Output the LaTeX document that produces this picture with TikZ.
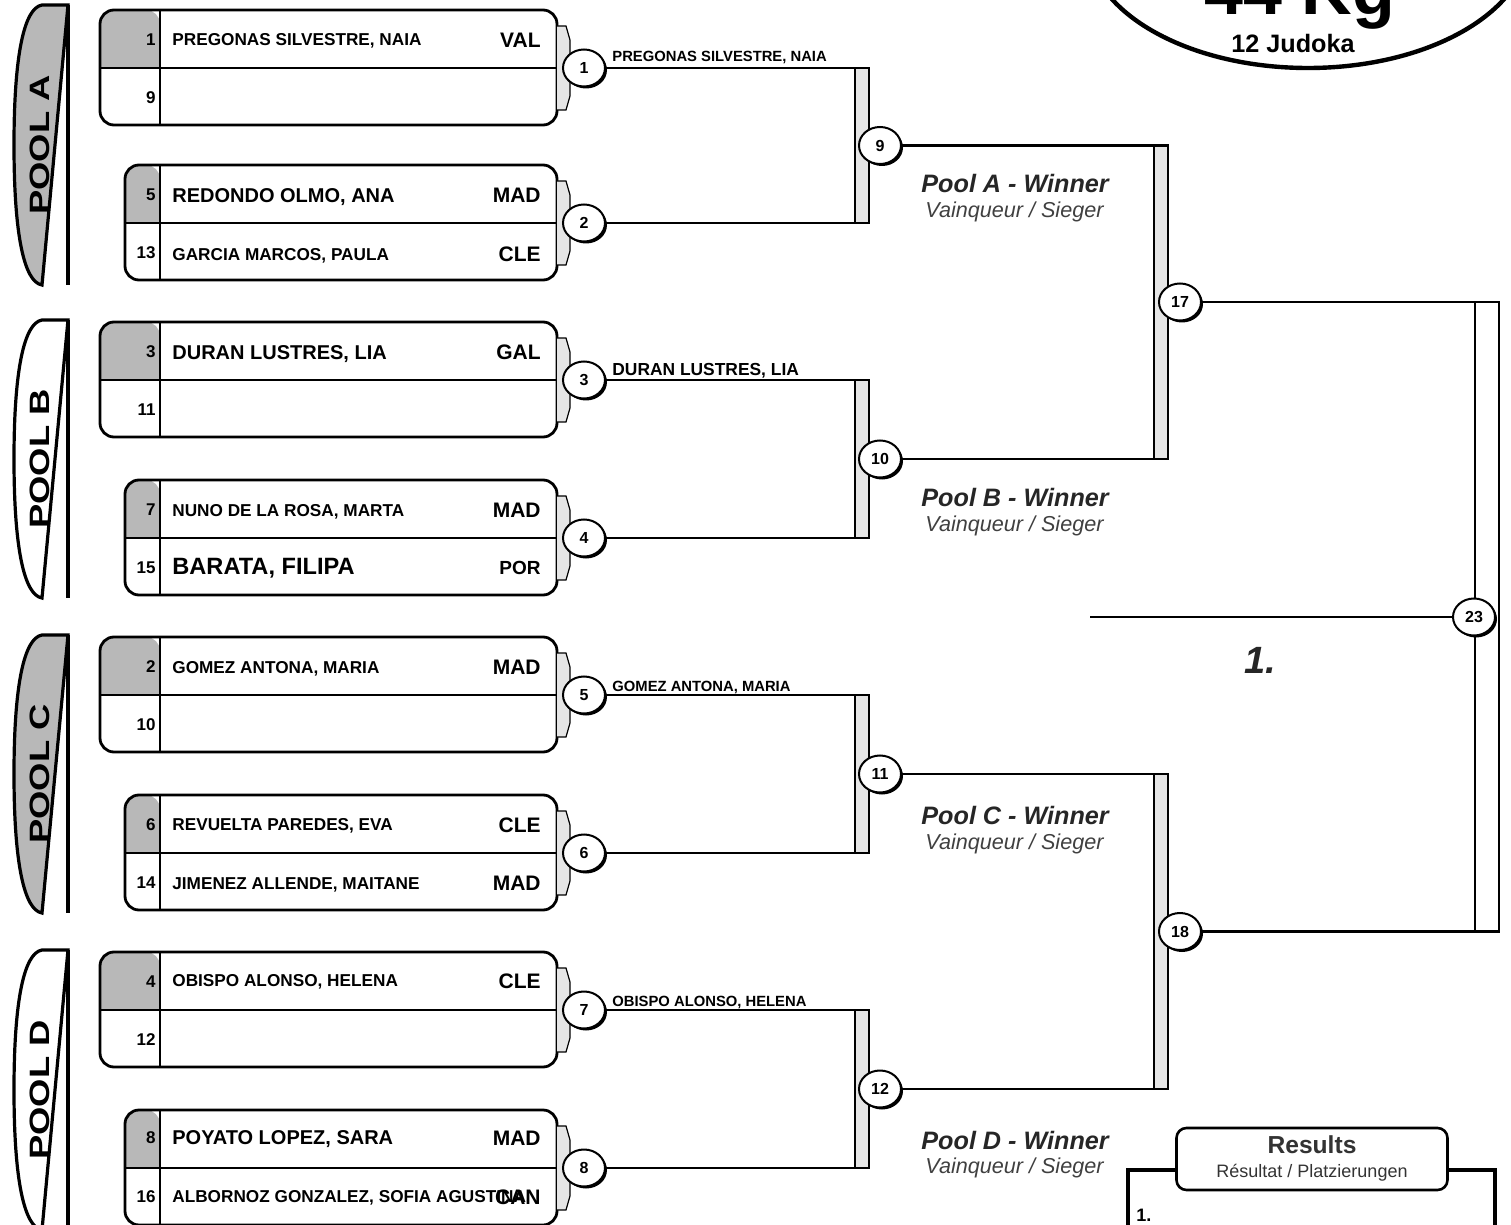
\documentclass[tikz,border=0pt]{standalone}
\usepackage{graphicx}
\usepackage{fontspec}
\setmainfont{Liberation Sans}
\usetikzlibrary{shapes.geometric,shadows}
\definecolor{poolgrey}{gray}{0.72}

\tikzset{
  pooltag/.style={line width=1.6pt},
  poolrim/.style={line width=2.4pt},
  pooltext/.style={rotate=90, inner sep=0pt, font=\bfseries\fontsize{14}{16}\selectfont},
  entry/.style={line width=1.4pt, rounded corners=7pt},
  seedcell/.style={fill=poolgrey},
  rowline/.style={line width=1pt},
  colline/.style={line width=0.7pt},
  tab/.style={draw, fill=black!10, line width=0.6pt},
  match/.style={ellipse, draw, line width=1pt, fill=white, minimum width=21pt, minimum height=18.5pt,
    inner sep=0pt, font=\bfseries\fontsize{8}{9}\selectfont,
    drop shadow={shadow xshift=1pt, shadow yshift=-1pt, fill=black, opacity=1}},
  wire/.style={line width=1.3pt},
  brfill/.style={fill=black!10},
  seedno/.style={anchor=east, inner sep=0pt, font=\bfseries\fontsize{8.5}{10}\selectfont},
  judoka/.style={anchor=west, inner sep=0pt, font=\bfseries\fontsize{#1}{12}\selectfont},
  judoka/.default=8.6,
  club/.style={anchor=east, inner sep=0pt, font=\bfseries\fontsize{10.5}{12}\selectfont},
  advance/.style={anchor=base west, inner sep=0pt, font=\bfseries\fontsize{#1}{9}\selectfont},
  advance/.default=7.4,
  winner/.style={anchor=west, inner sep=0pt, text=black!85, font=\bfseries\itshape\fontsize{12.6}{14}\selectfont},
  winnersub/.style={anchor=west, inner sep=0pt, text=black!75, font=\itshape\fontsize{10.8}{12}\selectfont},
}

\begin{document}
\begin{tikzpicture}[x=0.5pt, y=-0.5pt]
  \useasboundingbox (0,0) rectangle (1511,1225);
  \clip (0,0) rectangle (1511,1225);

  % pool tags
  \filldraw[pooltag, fill=poolgrey] (68,5) -- (42,5) .. controls (24,8) and (14,55) .. (14,145) .. controls (14,235) and (24,282) .. (42,285) -- cycle;
  \draw[poolrim] (68,5) -- (68,285);
  \node[pooltext] (pa) at (40,145) {\scalebox{1.3}[1]{POOL A}};

  \filldraw[pooltag, fill=white] (68,320) -- (42,320) .. controls (24,323) and (14,370) .. (14,459) .. controls (14,548) and (24,595) .. (42,598) -- cycle;
  \draw[poolrim] (68,320) -- (68,598);
  \node[pooltext] (pb) at (40,459) {\scalebox{1.3}[1]{POOL B}};

  \filldraw[pooltag, fill=poolgrey] (68,635) -- (42,635) .. controls (24,638) and (14,685) .. (14,774) .. controls (14,863) and (24,910) .. (42,913) -- cycle;
  \draw[poolrim] (68,635) -- (68,913);
  \node[pooltext] (pc) at (40,774) {\scalebox{1.3}[1]{POOL C}};

  \filldraw[pooltag, fill=white] (68,950) -- (42,950) .. controls (24,953) and (14,1000) .. (14,1090) .. controls (14,1180) and (24,1227) .. (42,1230) -- cycle;
  \draw[poolrim] (68,950) -- (68,1230);
  \node[pooltext] (pd) at (40,1090) {\scalebox{1.3}[1]{POOL D}};

  % box 1
  \fill[seedcell] (160,68) -- (100,68) [rounded corners=7pt] |- (160,10) [sharp corners] -- cycle;
  \draw[entry] (100,10) rectangle (557,125);
  \draw[rowline] (100,68) -- (557,68);
  \draw[colline] (160,10) -- (160,125);
  \filldraw[tab] (557,26) -- (566,26) -- (570,40) -- (570,96) -- (566,110) -- (557,110);
  \node[seedno] (s1) at (156,40) {1};
  \node[judoka] (j1) at (172,41) {PREGONAS SILVESTRE, NAIA};
  \node[club] (c1) at (541,40) {VAL};
  \node[seedno] (s9) at (156,98) {9};

  % box 2
  \fill[seedcell] (160,223) -- (125,223) [rounded corners=7pt] |- (160,165) [sharp corners] -- cycle;
  \draw[entry] (125,165) rectangle (557,280);
  \draw[rowline] (125,223) -- (557,223);
  \draw[colline] (160,165) -- (160,280);
  \filldraw[tab] (557,181) -- (566,181) -- (570,195) -- (570,251) -- (566,265) -- (557,265);
  \node[seedno] (s5) at (156,195) {5};
  \node[judoka=10] (j5) at (172,197) {REDONDO OLMO, ANA};
  \node[club] (c5) at (541,195) {MAD};
  \node[seedno] (s13) at (156,253) {13};
  \node[judoka] (j13) at (172,256) {GARCIA MARCOS, PAULA};
  \node[club] (c13) at (541,254) {CLE};

  % box 3
  \fill[seedcell] (160,380) -- (100,380) [rounded corners=7pt] |- (160,322) [sharp corners] -- cycle;
  \draw[entry] (100,322) rectangle (557,437);
  \draw[rowline] (100,380) -- (557,380);
  \draw[colline] (160,322) -- (160,437);
  \filldraw[tab] (557,338) -- (566,338) -- (570,352) -- (570,408) -- (566,422) -- (557,422);
  \node[seedno] (s3) at (156,352) {3};
  \node[judoka=10] (j3) at (172,354) {DURAN LUSTRES, LIA};
  \node[club] (c3) at (541,352) {GAL};
  \node[seedno] (s11) at (156,410) {11};

  % box 4
  \fill[seedcell] (160,538) -- (125,538) [rounded corners=7pt] |- (160,480) [sharp corners] -- cycle;
  \draw[entry] (125,480) rectangle (557,595);
  \draw[rowline] (125,538) -- (557,538);
  \draw[colline] (160,480) -- (160,595);
  \filldraw[tab] (557,496) -- (566,496) -- (570,510) -- (570,566) -- (566,580) -- (557,580);
  \node[seedno] (s7) at (156,510) {7};
  \node[judoka] (j7) at (172,512) {NUNO DE LA ROSA, MARTA};
  \node[club] (c7) at (541,510) {MAD};
  \node[seedno] (s15) at (156,568) {15};
  \node[judoka=11.8] (j15) at (172,568) {BARATA, FILIPA};
  \node[club, font=\bfseries\fontsize{9.5}{11}\selectfont] (c15) at (541,568) {POR};

  % box 5
  \fill[seedcell] (160,695) -- (100,695) [rounded corners=7pt] |- (160,637) [sharp corners] -- cycle;
  \draw[entry] (100,637) rectangle (557,752);
  \draw[rowline] (100,695) -- (557,695);
  \draw[colline] (160,637) -- (160,752);
  \filldraw[tab] (557,653) -- (566,653) -- (570,667) -- (570,723) -- (566,737) -- (557,737);
  \node[seedno] (s2) at (156,667) {2};
  \node[judoka] (j2) at (172,669) {GOMEZ ANTONA, MARIA};
  \node[club] (c2) at (541,667) {MAD};
  \node[seedno] (s10) at (156,725) {10};

  % box 6
  \fill[seedcell] (160,853) -- (125,853) [rounded corners=7pt] |- (160,795) [sharp corners] -- cycle;
  \draw[entry] (125,795) rectangle (557,910);
  \draw[rowline] (125,853) -- (557,853);
  \draw[colline] (160,795) -- (160,910);
  \filldraw[tab] (557,811) -- (566,811) -- (570,825) -- (570,881) -- (566,895) -- (557,895);
  \node[seedno] (s6) at (156,825) {6};
  \node[judoka] (j6) at (172,826) {REVUELTA PAREDES, EVA};
  \node[club] (c6) at (541,825) {CLE};
  \node[seedno] (s14) at (156,883) {14};
  \node[judoka] (j14) at (172,885) {JIMENEZ ALLENDE, MAITANE};
  \node[club] (c14) at (541,883) {MAD};

  % box 7
  \fill[seedcell] (160,1010) -- (100,1010) [rounded corners=7pt] |- (160,952) [sharp corners] -- cycle;
  \draw[entry] (100,952) rectangle (557,1067);
  \draw[rowline] (100,1010) -- (557,1010);
  \draw[colline] (160,952) -- (160,1067);
  \filldraw[tab] (557,968) -- (566,968) -- (570,982) -- (570,1038) -- (566,1052) -- (557,1052);
  \node[seedno] (s4) at (156,982) {4};
  \node[judoka] (j4) at (172,982) {OBISPO ALONSO, HELENA};
  \node[club] (c4) at (541,981) {CLE};
  \node[seedno] (s12) at (156,1040) {12};

  % box 8
  \fill[seedcell] (160,1168) -- (125,1168) [rounded corners=7pt] |- (160,1110) [sharp corners] -- cycle;
  \draw[entry] (125,1110) rectangle (557,1225);
  \draw[rowline] (125,1168) -- (557,1168);
  \draw[colline] (160,1110) -- (160,1225);
  \filldraw[tab] (557,1126) -- (566,1126) -- (570,1140) -- (570,1196) -- (566,1210) -- (557,1210);
  \node[seedno] (s8) at (156,1138) {8};
  \node[judoka=10] (j8) at (172,1139) {POYATO LOPEZ, SARA};
  \node[club] (c8) at (541,1138) {MAD};
  \node[seedno] (s16) at (156,1197) {16};
  \node[judoka] (j16) at (172,1198) {ALBORNOZ GONZALEZ, SOFIA AGUSTINA};
  \node[club] (c16) at (541,1197) {CAN};

  % first round
  \node[match] (m1) at (584,68) {1};
  \node[match] (m2) at (584,223) {2};
  \node[match] (m3) at (584,380) {3};
  \node[match] (m4) at (584,538) {4};
  \node[match] (m5) at (584,695) {5};
  \node[match] (m6) at (584,853) {6};
  \node[match] (m7) at (584,1010) {7};
  \node[match] (m8) at (584,1168) {8};

  \node[advance] (a1) at (612,62) {PREGONAS SILVESTRE, NAIA};
  \node[advance=8.7] (a3) at (612,376) {DURAN LUSTRES, LIA};
  \node[advance] (a5) at (612,691) {GOMEZ ANTONA, MARIA};
  \node[advance] (a7) at (612,1006) {OBISPO ALONSO, HELENA};

  \fill[brfill] (855,68) rectangle (869,223);
  \draw[colline] (855,68) -- (855,223);
  \draw[wire] (m1) -- (869,68) -- (869,223) -- (m2);
  \fill[brfill] (855,380) rectangle (869,538);
  \draw[colline] (855,380) -- (855,538);
  \draw[wire] (m3) -- (869,380) -- (869,538) -- (m4);
  \fill[brfill] (855,695) rectangle (869,853);
  \draw[colline] (855,695) -- (855,853);
  \draw[wire] (m5) -- (869,695) -- (869,853) -- (m6);
  \fill[brfill] (855,1010) rectangle (869,1168);
  \draw[colline] (855,1010) -- (855,1168);
  \draw[wire] (m7) -- (869,1010) -- (869,1168) -- (m8);

  % pool winners
  \node[match] (m9) at (880,145.5) {9};
  \node[match] (m10) at (880,459) {10};
  \node[match] (m11) at (880,774) {11};
  \node[match] (m12) at (880,1089) {12};

  \node[winner] (wa) at (921,183) {Pool A - Winner};
  \node[winnersub] (va) at (925,212) {Vainqueur / Sieger};
  \node[winner] (wb) at (921,497) {Pool B - Winner};
  \node[winnersub] (vb) at (925,526) {Vainqueur / Sieger};
  \node[winner] (wc) at (921,815) {Pool C - Winner};
  \node[winnersub] (vc) at (925,844) {Vainqueur / Sieger};
  \node[winner] (wd) at (921,1140) {Pool D - Winner};
  \node[winnersub] (vd) at (925,1168) {Vainqueur / Sieger};

  \fill[brfill] (1154,145.5) rectangle (1168,459);
  \draw[colline] (1154,145.5) -- (1154,459);
  \draw[wire] (m9) -- (1168,145.5) -- (1168,459) -- (m10);
  \fill[brfill] (1154,774) rectangle (1168,1089);
  \draw[colline] (1154,774) -- (1154,1089);
  \draw[wire] (m11) -- (1168,774) -- (1168,1089) -- (m12);

  % semi final and final
  \node[match] (m17) at (1180,302) {17};
  \node[match] (m18) at (1180,931.5) {18};

  \draw[colline] (1475,302) -- (1475,931.5);
  \draw[wire] (m17) -- (1499,302) -- (1499,931.5) -- (m18);

  \coordinate (fin) at (1090,617);
  \node[match] (m23) at (1474,617) {23};
  \draw[wire] (fin) -- (m23);
  \node[inner sep=0pt, text=black!85, font=\bfseries\itshape\fontsize{19}{22}\selectfont] (first) at (1260,660) {1.};

  % title
  \draw[line width=2.2pt] (1308,-60) ellipse [x radius=110.5pt, y radius=64pt];
  \node[anchor=base, inner sep=0pt, font=\bfseries\fontsize{35}{40}\selectfont] (kg) at (1300,15) {44 Kg};
  \node[anchor=base, inner sep=0pt, font=\bfseries\fontsize{12.6}{14}\selectfont] (nj) at (1293,53) {12 Judoka};

  % results
  \draw[line width=1.8pt] (1128,1240) |- (1200,1170);
  \draw[line width=1.8pt] (1420,1170) -| (1495,1240);
  \node[draw, fill=white, line width=1.3pt, rounded corners=5pt, minimum width=135.5pt, minimum height=31pt] (res) at (1312,1159) {};
  \node[inner sep=0pt, text=black!80, font=\bfseries\fontsize{12.3}{14}\selectfont] (rest) at (1312,1145) {Results};
  \node[inner sep=0pt, text=black!80, font=\fontsize{9}{11}\selectfont] (ress) at (1312,1173) {Résultat / Platzierungen};
  \node[anchor=west, inner sep=0pt, font=\bfseries\fontsize{9}{11}\selectfont] (res1) at (1136,1215) {1.};
\end{tikzpicture}
\end{document}
